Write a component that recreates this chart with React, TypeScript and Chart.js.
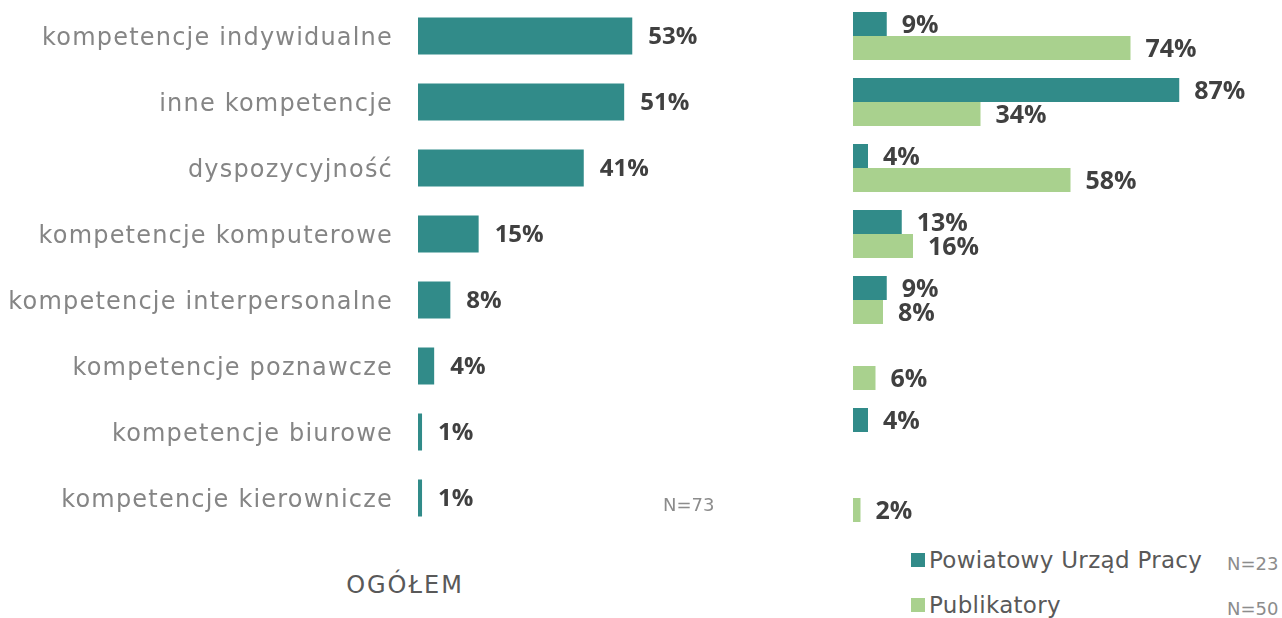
import React, { useEffect, useRef } from "react";
import { Chart, registerables } from "chart.js";

Chart.register(...registerables);

const categories = [
  "kompetencje indywidualne",
  "inne kompetencje",
  "dyspozycyjność",
  "kompetencje komputerowe",
  "kompetencje interpersonalne",
  "kompetencje poznawcze",
  "kompetencje biurowe",
  "kompetencje kierownicze",
];
const totalValues = [53, 51, 41, 15, 8, 4, 1, 1];
const pupValues: (number | null)[] = [9, 87, 4, 13, 9, null, 4, null];
const publikatoryValues: (number | null)[] = [74, 34, 58, 16, 8, 6, null, 2];
const seriesNames = ["Powiatowy Urząd Pracy", "Publikatory"];
const totalSample = "N=73";
const seriesSamples = ["N=23", "N=50"];
const panelTitle = "OGÓŁEM";

const TEAL = "#318b89";
const GREEN = "#a9d18e";
const LABEL_GRAY = "#858585";
const DARK = "#404040";

const letterSpacingPlugin = {
  id: "letterSpacing",
  beforeDraw(chart: any, _args: any, opts: any) {
    try {
      chart.ctx.letterSpacing = opts.spacing || "0px";
    } catch (e) {}
  },
};

const valueLabelPlugin = {
  id: "valueLabels",
  afterDatasetsDraw(chart: any, _args: any, opts: any) {
    const ctx = chart.ctx;
    ctx.save();
    try {
      ctx.letterSpacing = "0px";
    } catch (e) {}
    ctx.font = opts.font;
    ctx.fillStyle = opts.color;
    ctx.textAlign = "left";
    ctx.textBaseline = "middle";
    chart.data.datasets.forEach((ds: any, di: number) => {
      const meta = chart.getDatasetMeta(di);
      meta.data.forEach((bar: any, i: number) => {
        const v = ds.data[i];
        if (v === null || v === undefined) return;
        ctx.fillText(v + "%", bar.x + opts.offset, bar.y + (opts.dy || 0));
      });
    });
    ctx.restore();
  },
};

export default function App() {
  const leftRef = useRef<HTMLCanvasElement>(null);
  const rightRef = useRef<HTMLCanvasElement>(null);

  useEffect(() => {
    const left = new Chart(leftRef.current!, {
      type: "bar",
      data: {
        labels: categories,
        datasets: [
          {
            data: totalValues,
            backgroundColor: TEAL,
            borderWidth: 0,
            categoryPercentage: 1,
            barPercentage: 37 / 66,
          },
        ],
      },
      options: {
        animation: false,
        responsive: false,
        maintainAspectRatio: false,
        indexAxis: "y",
        layout: { padding: { top: 3, bottom: 0, left: 0, right: 0 } },
        plugins: {
          legend: { display: false },
          tooltip: { enabled: false },
          letterSpacing: { spacing: "1.2px" },
          valueLabels: {
            font: "bold 24px 'Open Sans'",
            color: DARK,
            offset: 16,
            dy: 1,
          },
        } as any,
        scales: {
          x: { display: false, min: 0, max: 70 },
          y: {
            grid: { display: false, drawTicks: true, tickLength: 25 },
            border: { display: false },
            ticks: {
              padding: 0,
              labelOffset: 3,
              color: LABEL_GRAY,
              font: { family: "DejaVu Sans", size: 24 },
            },
            afterFit(axis: any) {
              axis.width = 418;
              axis.paddingTop = 0;
              axis.paddingBottom = 0;
            },
          },
        },
      },
      plugins: [letterSpacingPlugin, valueLabelPlugin],
    });

    const right = new Chart(rightRef.current!, {
      type: "bar",
      data: {
        labels: categories,
        datasets: [
          {
            label: seriesNames[0],
            data: pupValues,
            backgroundColor: TEAL,
            borderWidth: 0,
            categoryPercentage: 48 / 66,
            barPercentage: 1,
          },
          {
            label: seriesNames[1],
            data: publikatoryValues,
            backgroundColor: GREEN,
            borderWidth: 0,
            categoryPercentage: 48 / 66,
            barPercentage: 1,
          },
        ],
      },
      options: {
        animation: false,
        responsive: false,
        maintainAspectRatio: false,
        indexAxis: "y",
        layout: { padding: { top: 3, bottom: 0, left: 13, right: 54 } },
        plugins: {
          legend: { display: false },
          tooltip: { enabled: false },
          valueLabels: {
            font: "bold 25px 'Open Sans'",
            color: DARK,
            offset: 15,
            dy: 1.5,
          },
        } as any,
        scales: {
          x: { display: false, min: 0, max: 100 },
          y: { display: false },
        },
      },
      plugins: [valueLabelPlugin],
    });

    return () => {
      left.destroy();
      right.destroy();
    };
  }, []);

  const textBase: React.CSSProperties = {
    position: "absolute",
    fontFamily: "'DejaVu Sans', sans-serif",
    whiteSpace: "nowrap",
  };

  return (
    <div
      style={{
        position: "absolute",
        left: 0,
        top: 0,
        width: 1282,
        height: 618,
        background: "#ffffff",
        overflow: "hidden",
      }}
    >
      <canvas
        ref={leftRef}
        width={701}
        height={531}
        style={{ position: "absolute", left: 0, top: 0, display: "block" }}
      />
      <canvas
        ref={rightRef}
        width={442}
        height={531}
        style={{ position: "absolute", left: 840, top: 0, display: "block" }}
      />
      <div
        style={{
          ...textBase,
          left: 663,
          top: 505 - 15,
          lineHeight: "30px",
          fontSize: 18,
          color: "#8c8c8c",
        }}
      >
        {totalSample}
      </div>
      <div
        style={{
          ...textBase,
          left: 405,
          transform: "translateX(-50%)",
          top: 585 - 15,
          lineHeight: "30px",
          fontSize: 24,
          letterSpacing: "2px",
          color: "#595959",
        }}
      >
        {panelTitle}
      </div>
      {seriesNames.map((name, i) => {
        const cy = i === 0 ? 560 : 605;
        const ny = i === 0 ? 564 : 609;
        return (
          <React.Fragment key={name}>
            <div
              style={{
                position: "absolute",
                left: 911,
                top: cy - 7,
                width: 14,
                height: 14,
                background: i === 0 ? TEAL : GREEN,
              }}
            />
            <div
              style={{
                ...textBase,
                left: 929,
                top: cy - 15,
                lineHeight: "30px",
                fontSize: 23,
                letterSpacing: "0.3px",
                color: "#595959",
              }}
            >
              {name}
            </div>
            <div
              style={{
                ...textBase,
                left: 1227,
                top: ny - 15,
                lineHeight: "30px",
                fontSize: 18,
                color: "#8c8c8c",
              }}
            >
              {seriesSamples[i]}
            </div>
          </React.Fragment>
        );
      })}
    </div>
  );
}
